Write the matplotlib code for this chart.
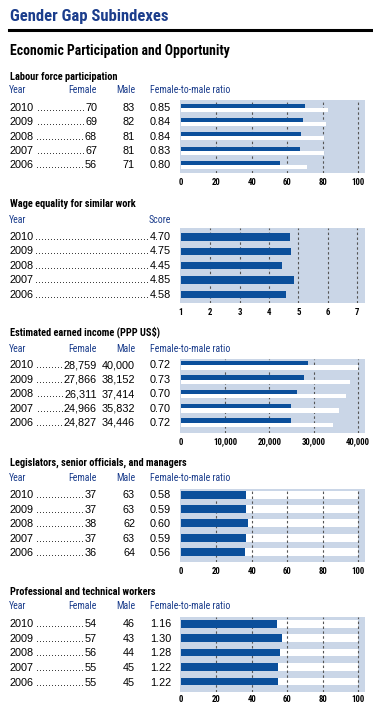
import matplotlib
matplotlib.use("Agg")
import matplotlib.pyplot as plt
import matplotlib.font_manager as fm

# data (rows top to bottom)
years = [2010, 2009, 2008, 2007, 2006]

labour_female = [70, 69, 68, 67, 56]
labour_male = [83, 82, 81, 81, 71]
labour_ratio = [0.85, 0.84, 0.84, 0.83, 0.80]

wage_score = [4.70, 4.75, 4.45, 4.85, 4.58]

income_female = [28759, 27866, 26311, 24966, 24827]
income_male = [40000, 38152, 37414, 35832, 34446]
income_ratio = [0.72, 0.73, 0.70, 0.70, 0.72]

leg_female = [37, 37, 38, 37, 36]
leg_male = [63, 63, 62, 63, 64]
leg_ratio = [0.58, 0.59, 0.60, 0.59, 0.56]

prof_female = [54, 57, 56, 55, 55]
prof_male = [46, 43, 44, 45, 45]
prof_ratio = [1.16, 1.30, 1.28, 1.22, 1.22]

pct_ticks = [0, 20, 40, 60, 80, 100]
score_ticks = [1, 2, 3, 4, 5, 6, 7]
income_ticks = [0, 10000, 20000, 30000, 40000]

W, H = 373, 708
fig = plt.figure(figsize=(W / 100, H / 100), dpi=100)
r = fig.canvas.get_renderer()

# pick a condensed face if one is installed
fonts = fm.fontManager.ttflist
names = {f.name for f in fonts}
NARROW, STRETCH = 'Liberation Sans', 'normal'
for n in ['Liberation Sans Narrow', 'Arial Narrow', 'Roboto Condensed',
          'Open Sans Condensed', 'DejaVu Sans Condensed', 'Noto Sans Condensed']:
    if n in names:
        NARROW = n
        break
else:
    for f in fonts:
        if 'condensed' in str(f.stretch) and 'Mono' not in f.name and 'Serif' not in f.name:
            NARROW, STRETCH = f.name, 'condensed'
            break

REG = 'Liberation Sans'
TITLE_BLUE = '#1b3d8c'
BAR = '#0b4f9b'
BG = '#cad6e7'
GRID = '#555555'


def fit(s, width, weight='normal'):
    # font size that gives the text the width seen in the reference
    t = fig.text(0, 0, s, fontsize=10, family=NARROW, stretch=STRETCH, weight=weight)
    w = t.get_window_extent(r).width
    t.remove()
    return 10 * width / w


S_TITLE = fit('Gender Gap Subindexes', 158, 'bold')
S_SUB = fit('Economic Participation and Opportunity', 220, 'bold')
S_SEC = fit('Labour force participation', 108, 'bold')
S_HEAD = fit('Female-to-male ratio', 80)
S_TICK = 6.3


def txt(x, y, s, size, ha='left', narrow=False, weight='normal', color='black'):
    return fig.text(x / W, 1 - y / H, s, fontsize=size, ha=ha, va='baseline',
                    family=NARROW if narrow else REG,
                    stretch=STRETCH if narrow else 'normal',
                    weight=weight, color=color)


def panel(top, bottom, c0, step, v0, v1, p1, ticks, labels, tick_base):
    # axes from x=180 to 365 px; value v0 sits at px 181, v1 at px p1
    left, right = 180, 365
    ax = fig.add_axes([left / W, 1 - bottom / H, (right - left) / W, (bottom - top) / H])
    span = (v1 - v0) * (right - left) / (p1 - 181)
    a = v0 - span * (181 - left) / (right - left)
    ax.set_xlim(a, a + span)
    ax.set_ylim((bottom - c0) / step, (top - c0) / step)
    ax.set_facecolor(BG)
    for s in ax.spines.values():
        s.set_visible(False)
    ax.set_yticks([])
    ax.set_xticks(ticks)
    ax.set_xticklabels(labels)
    for t in ticks[1:]:
        ax.axvline(t, color=GRID, lw=0.8, ls=(0, (2.2, 2.2)), zorder=1)
    pad = (tick_base - bottom - S_TICK * 0.72 * 1.39) * 0.72
    ax.tick_params(axis='x', length=0, pad=pad)
    for lab in ax.get_xticklabels():
        lab.set_family(NARROW)
        lab.set_stretch(STRETCH)
        lab.set_weight('bold')
        lab.set_fontsize(S_TICK)
    return ax


leaders = []


def rows(base0, step, cols):
    for i, y in enumerate(years):
        b = base0 + i * step
        yt = txt(9.3, b, str(y), 7.8)
        first = None
        for x, vals, fmt in cols:
            t = txt(x, b, fmt(vals[i]), 7.8, ha='right')
            if first is None:
                first = t
        leaders.append((yt, first, b))


def header(base, items):
    for x, s, ha in items:
        txt(x, base, s, S_HEAD, ha=ha, narrow=True, color=TITLE_BLUE)


def section(base, s):
    txt(10, base, s, S_SEC, narrow=True, weight='bold')


# titles
txt(10, 20.7, 'Gender Gap Subindexes', S_TITLE, narrow=True, weight='bold', color=TITLE_BLUE)
fig.add_artist(plt.Line2D([9.3 / W, 1], [1 - 30.2 / H] * 2, color='black', lw=2.2))
txt(10, 55, 'Economic Participation and Opportunity', S_SUB, narrow=True, weight='bold')

pct = lambda v: f'{v}'
rat = lambda v: f'{v:.2f}'
money = lambda v: f'{v:,}'
std_head = [(9.3, 'Year', 'left'), (97, 'Female', 'right'), (135, 'Male', 'right'),
            (150, 'Female-to-male ratio', 'left')]
idx = list(range(len(years)))

# Labour force participation
section(80, 'Labour force participation')
header(93.3, std_head)
rows(110.7, 14.4, [(97, labour_female, pct), (135, labour_male, pct), (171, labour_ratio, rat)])
ax = panel(100, 172.7, 108, 14.2, 0, 100, 358, pct_ticks, [str(t) for t in pct_ticks], 184)
h = 4 / 14.2
ax.barh([i - h / 2 for i in idx], labour_female, height=h, color=BAR, zorder=2)
ax.barh([i + h / 2 for i in idx], labour_male, height=h, color='white', zorder=2)

# Wage equality
section(207.3, 'Wage equality for similar work')
header(222.7, [(9.3, 'Year', 'left'), (171, 'Score', 'right')])
rows(240, 14.5, [(171, wage_score, rat)])
ax = panel(228.3, 303, 237, 14.3, 1, 7, 357, score_ticks, [str(t) for t in score_ticks], 314)
ax.barh(idx, [s - 1 for s in wage_score], left=1, height=7.3 / 14.3, color=BAR, zorder=2)

# Estimated earned income
section(336, 'Estimated earned income (PPP US$)')
header(351.7, std_head)
rows(368.3, 14.4, [(97, income_female, money), (135, income_male, money), (171, income_ratio, rat)])
ax = panel(359.3, 433, 365.3, 14.35, 0, 40000, 357.7, income_ticks,
           [f'{t:,}' for t in income_ticks], 444)
h = 4.3 / 14.35
ax.barh([i - h / 2 for i in idx], income_female, height=h, color=BAR, zorder=2)
ax.barh([i + h / 2 for i in idx], income_male, height=h, color='white', zorder=2)

# Legislators
section(466, 'Legislators, senior officials, and managers')
header(480.7, std_head)
rows(498.3, 14.4, [(97, leg_female, pct), (135, leg_male, pct), (171, leg_ratio, rat)])
ax = panel(489.3, 561.7, 495, 14.2, 0, 100, 358, pct_ticks, [str(t) for t in pct_ticks], 573.5)
h = 8 / 14.2
ax.barh(idx, leg_female, height=h, color=BAR, zorder=2)
ax.barh(idx, leg_male, left=leg_female, height=h, color='white', zorder=0.5)

# Professional and technical
section(595, 'Professional and technical workers')
header(609.3, std_head)
rows(627.3, 14.6, [(97, prof_female, pct), (135, prof_male, pct), (171, prof_ratio, rat)])
ax = panel(616.7, 691.7, 623.8, 14.4, 0, 100, 358, pct_ticks, [str(t) for t in pct_ticks], 701.7)
h = 7.7 / 14.4
ax.barh(idx, prof_female, height=h, color=BAR, zorder=2)
ax.barh(idx, prof_male, left=prof_female, height=h, color='white', zorder=0.5)

# dotted leaders between year and first value
fig.canvas.draw()
probe = txt(0, 0, '.', 7.8)
dot_w = probe.get_window_extent(r).width
probe.remove()
for yt, vt, b in leaders:
    x0 = yt.get_window_extent(r).x1 + 1
    x1 = vt.get_window_extent(r).x0 - 0.5
    n = int((x1 - x0) / dot_w)
    txt(x1, b, '.' * n, 7.8, ha='right')

fig.savefig('out.png', dpi=100)
